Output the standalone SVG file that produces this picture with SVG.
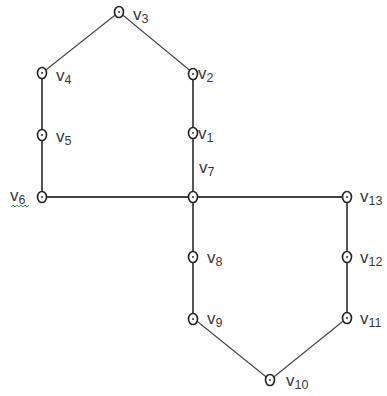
<svg xmlns="http://www.w3.org/2000/svg" width="387" height="396" viewBox="0 0 387 396">
<style>
.e{stroke:#2b2b2b;stroke-width:1.6;fill:none}
.d{stroke:#444;stroke-width:1.1;fill:none}
.n ellipse{fill:#fff;stroke:#222;stroke-width:1.6}
.n circle{fill:#333}
text{font-family:"Liberation Sans",Arial,sans-serif;font-size:17px;fill:#3a3a3a}
.s{font-size:12.5px}
</style>
<rect width="387" height="396" fill="#fff"/>
<g id="edges">
<line class="d" x1="119" y1="12" x2="42" y2="73"/>
<line class="d" x1="119" y1="12" x2="193" y2="73"/>
<line class="e" x1="42" y1="73" x2="42" y2="197"/>
<line class="e" x1="193" y1="73" x2="193" y2="318"/>
<line class="e" x1="42" y1="197" x2="347" y2="197" style="stroke-width:2.2;stroke:#444"/>
<line class="e" x1="347" y1="197" x2="347" y2="318"/>
<line class="d" x1="193" y1="318" x2="270" y2="380"/>
<line class="d" x1="270" y1="380" x2="347" y2="318"/>
</g>
<g id="v3" class="n"><ellipse cx="119" cy="12" rx="4.5" ry="5.5"/><circle cx="119" cy="12" r="1"/><text x="133" y="20">v<tspan class="s" dy="3">3</tspan></text></g>
<g id="v4" class="n"><ellipse cx="42" cy="73" rx="4.5" ry="5.5"/><circle cx="42" cy="73" r="1"/><text x="56" y="81">v<tspan class="s" dy="3">4</tspan></text></g>
<g id="v5" class="n"><ellipse cx="42" cy="135" rx="4.5" ry="5.5"/><circle cx="42" cy="135" r="1"/><text x="56" y="142">v<tspan class="s" dy="3">5</tspan></text></g>
<g id="v6" class="n"><ellipse cx="42" cy="197" rx="4.5" ry="5.5"/><circle cx="42" cy="197" r="1"/><text x="10" y="201">v<tspan class="s" dy="3">6</tspan></text><polyline points="11,207 13,205 15,207 17,205 19,207 21,205 23,207 25,205 27,207 29,205" style="fill:none;stroke:#3a9a3a;stroke-width:1"/></g>
<g id="v2" class="n"><ellipse cx="193" cy="74" rx="4.5" ry="5.5"/><circle cx="193" cy="74" r="1"/><text x="198" y="79">v<tspan class="s" dy="3">2</tspan></text></g>
<g id="v1" class="n"><ellipse cx="193" cy="133" rx="4.5" ry="5.5"/><circle cx="193" cy="133" r="1"/><text x="198" y="139">v<tspan class="s" dy="3">1</tspan></text></g>
<g id="v7" class="n"><ellipse cx="193" cy="197" rx="4.5" ry="5.5"/><circle cx="193" cy="197" r="1"/><text x="199" y="173">v<tspan class="s" dy="3">7</tspan></text></g>
<g id="v13" class="n"><ellipse cx="347" cy="197" rx="4.5" ry="5.5"/><circle cx="347" cy="197" r="1"/><text x="360" y="202">v<tspan class="s" dy="3">13</tspan></text></g>
<g id="v8" class="n"><ellipse cx="193" cy="257" rx="4.5" ry="5.5"/><circle cx="193" cy="257" r="1"/><text x="207" y="263">v<tspan class="s" dy="3">8</tspan></text></g>
<g id="v12" class="n"><ellipse cx="347" cy="257" rx="4.5" ry="5.5"/><circle cx="347" cy="257" r="1"/><text x="360" y="263">v<tspan class="s" dy="3">12</tspan></text></g>
<g id="v9" class="n"><ellipse cx="193" cy="319" rx="4.5" ry="5.5"/><circle cx="193" cy="319" r="1"/><text x="207" y="324">v<tspan class="s" dy="3">9</tspan></text></g>
<g id="v11" class="n"><ellipse cx="347" cy="318" rx="4.5" ry="5.5"/><circle cx="347" cy="318" r="1"/><text x="360" y="324">v<tspan class="s" dy="3">11</tspan></text></g>
<g id="v10" class="n"><ellipse cx="270" cy="380" rx="4.5" ry="5.5"/><circle cx="270" cy="380" r="1"/><text x="286" y="386">v<tspan class="s" dy="3">10</tspan></text></g>
</svg>
